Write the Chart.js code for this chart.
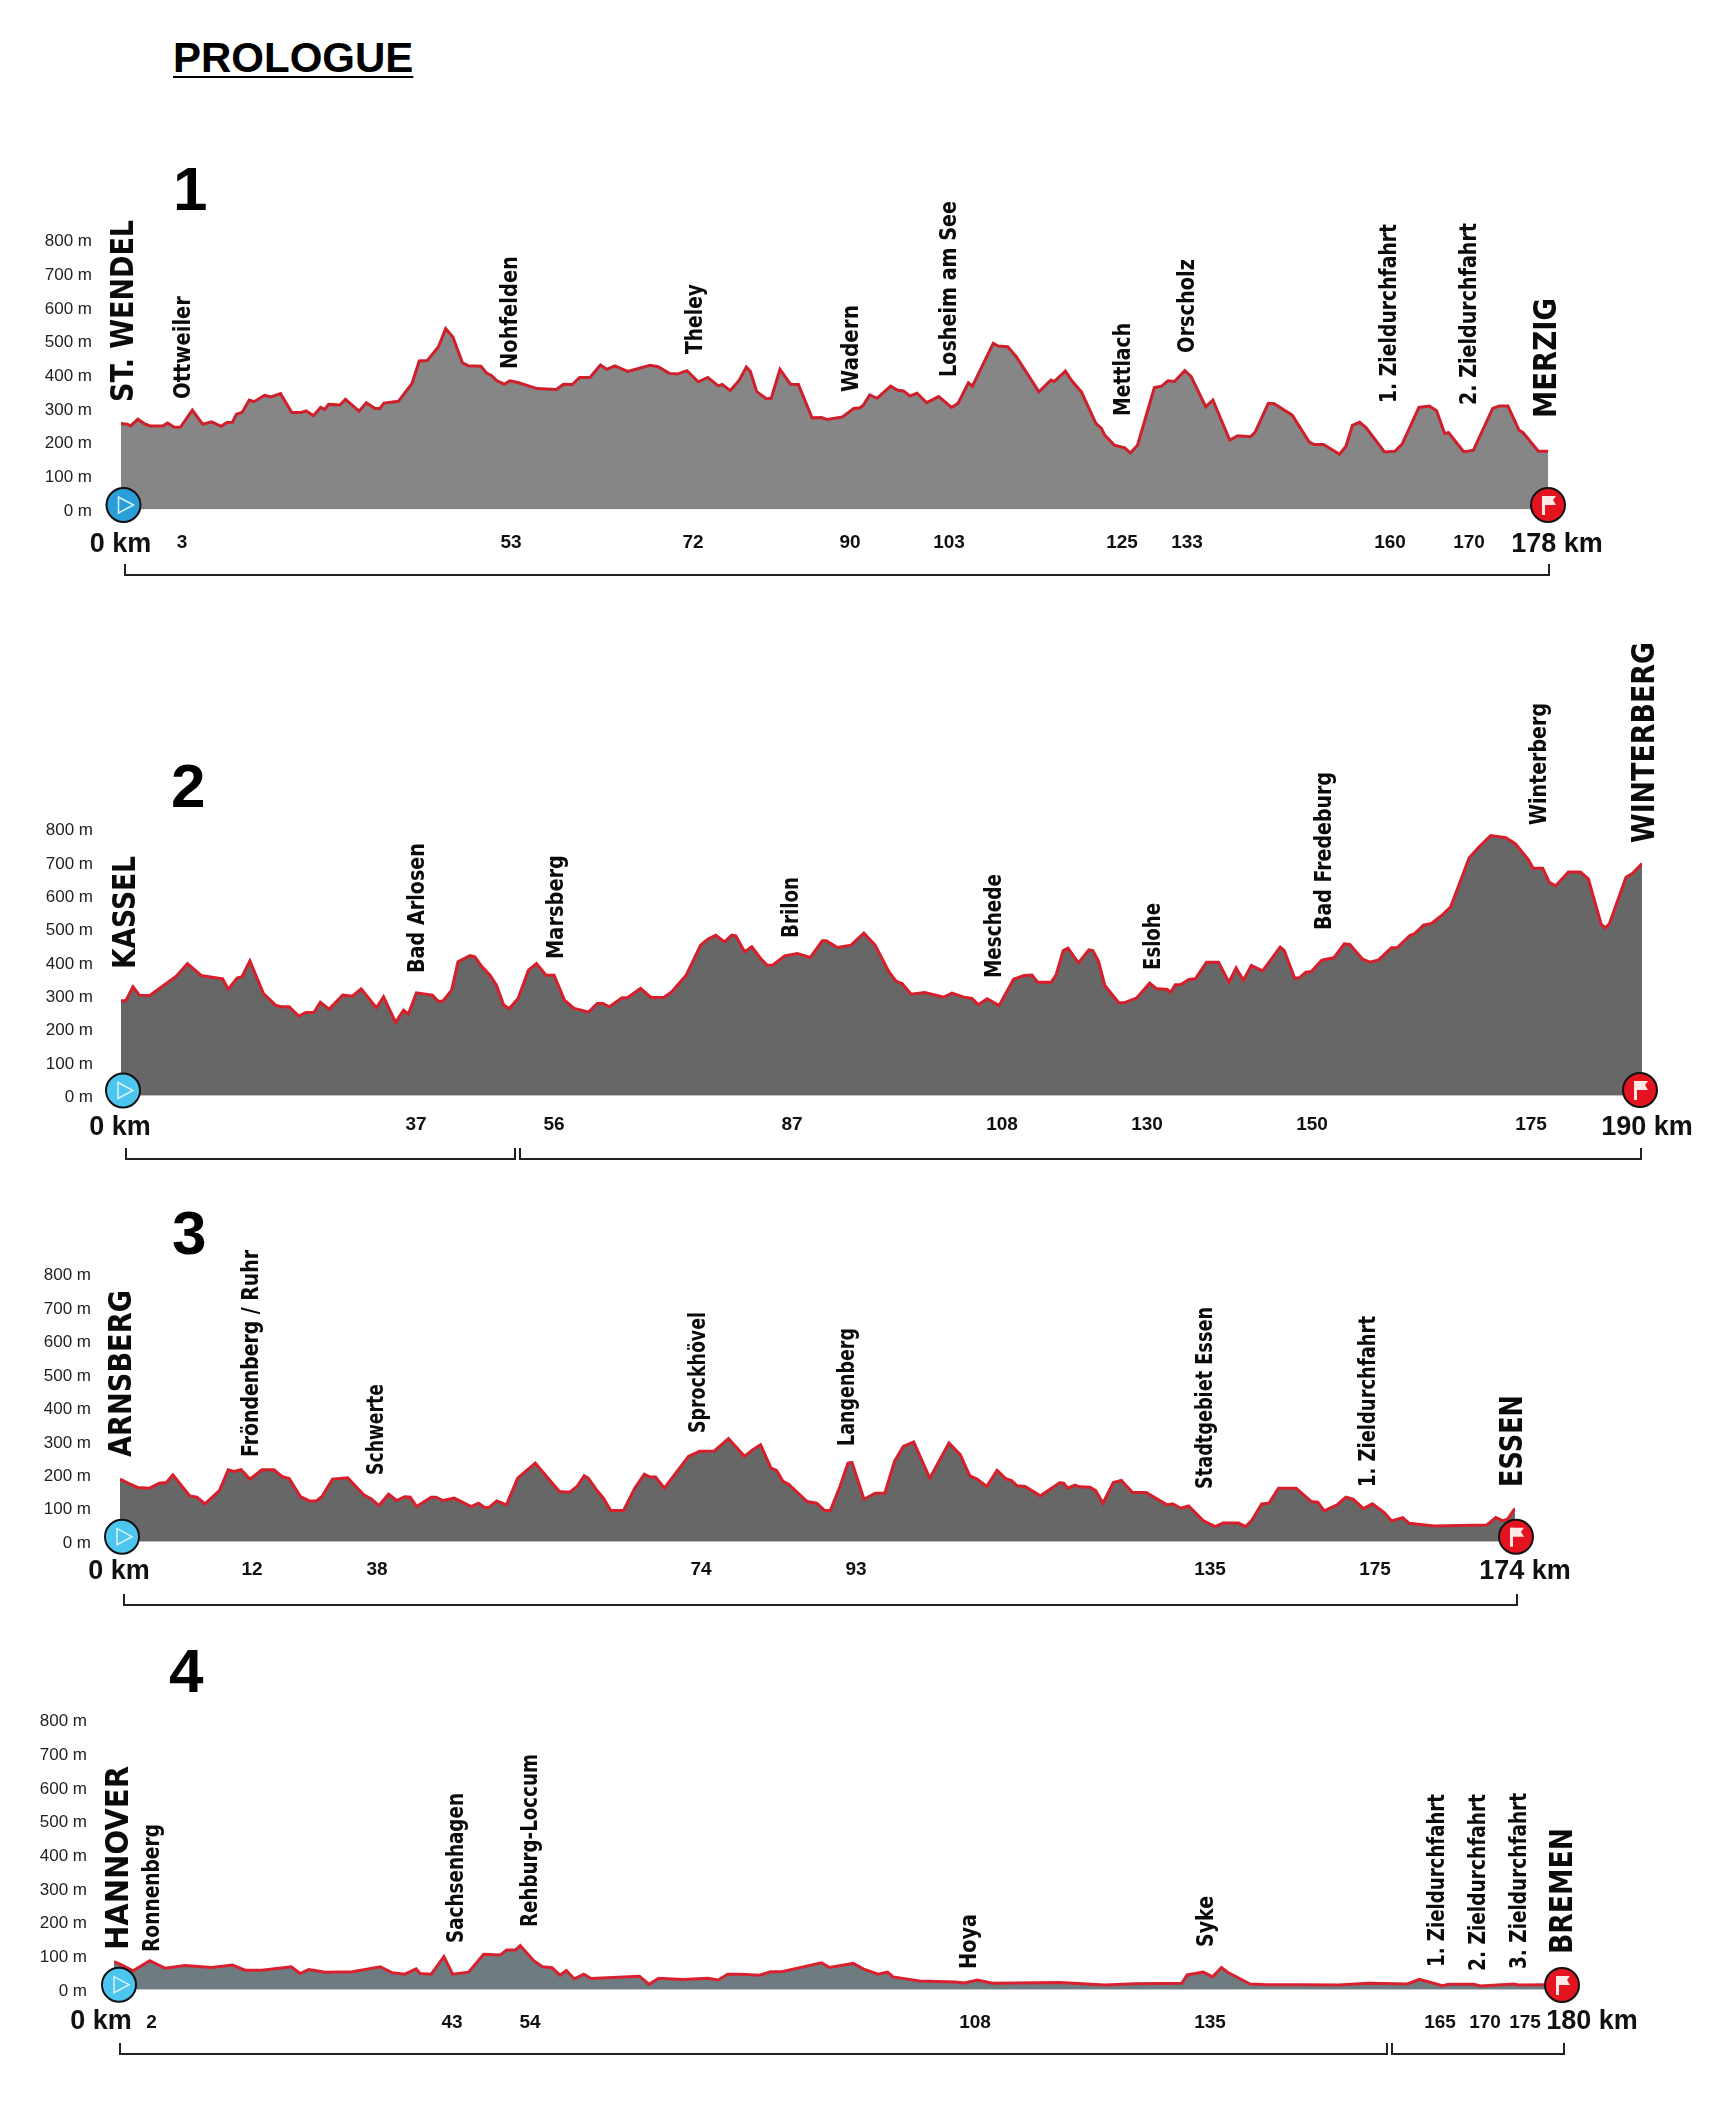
<!DOCTYPE html>
<html>
<head>
<meta charset="utf-8">
<title>Prologue and stages</title>
<script src="https://cdn.jsdelivr.net/npm/chart.js@4/dist/chart.umd.min.js"></script>
<style>
  html, body { margin: 0; background: #fff; }
  body { position: relative; width: 1728px; height: 2120px; overflow: hidden; }
  h1 { position: absolute; left: 173px; top: 34px; margin: 0; font: bold 42px "Liberation Sans", sans-serif; color: #000; text-decoration: underline; text-decoration-thickness: 2px; text-underline-offset: 4px; }
  canvas { position: absolute; left: 0; }
</style>
</head>
<body>
<h1>PROLOGUE</h1>
<canvas id="stage1" width="1728" height="500" style="top:100px"></canvas>
<canvas id="stage2" width="1728" height="590" style="top:600px"></canvas>
<canvas id="stage3" width="1728" height="430" style="top:1190px"></canvas>
<canvas id="stage4" width="1728" height="480" style="top:1630px"></canvas>
<script>
// profile values, km along the stage and metres
const stage1Km = [0,0.8,1.2,2.1,2.9,3.6,5.2,5.8,6.6,7.4,8.9,10.2,11.3,12.5,13.2,13.9,14.4,15.1,16,16.6,17.9,18.7,19.9,21.3,22.5,23.1,24,24.9,25.4,25.9,27.3,28,29.7,30.6,31.7,32.3,32.8,34.6,36.3,37.2,38.2,39.6,40.5,41.4,42.6,43.3,44.9,45.6,46.2,46.9,47.8,48.5,49.5,51.9,54.3,55.2,56.3,57.2,58.5,59.8,60.6,61.6,63.2,66,67,68.4,69.4,70.6,72,73.2,74.5,75,76,77.1,78,78.5,79.3,80.5,81.1,82.2,83.5,84.5,86.2,87.4,88.1,90,91.4,92.2,92.6,93.4,94.3,96,96.9,97.6,98.4,99.3,100.5,102,103.6,104.4,105.7,106.2,108.8,109.4,110.6,111.7,114.5,116,116.4,117.8,118.6,119.8,121.6,122.3,122.7,123.9,125.2,125.9,126.8,128.9,129.8,130.6,131.4,132.7,133.5,135.3,136.2,138.3,139.3,140.9,141.5,143.1,143.8,146.1,148.2,148.8,150,152,152.8,153.6,154.5,155.3,157.6,158.9,159.8,161.9,163.2,164.1,165.1,165.6,167.5,168.7,171.1,171.9,173,174.4,174.9,176.8,178];
const stage1Elev = [255,253,248,268,255,248,248,257,245,244,295,253,260,247,258,259,283,288,325,320,339,334,344,288,288,293,278,303,297,312,310,327,292,317,300,300,316,321,374,441,442,483,537,512,435,427,425,405,398,382,372,382,377,359,356,372,371,392,392,429,416,426,410,428,424,404,402,412,379,392,367,371,353,383,423,410,350,329,330,416,372,371,272,273,267,275,300,302,310,340,330,366,354,352,337,345,317,335,303,315,376,366,493,485,483,453,349,384,380,411,382,349,256,241,221,191,183,168,191,362,366,382,380,412,394,305,325,206,219,216,231,315,315,280,201,193,193,164,188,250,259,243,171,173,194,303,307,293,226,228,171,176,300,307,307,235,228,173,173];

const stage2Km = [0,0.6,1.5,2.3,3.6,6.9,8.3,10,12.7,13.4,14.5,15.1,16.1,17.8,19.3,20,21,22.2,23.1,24.1,24.9,26,27.7,28.9,30,31.9,32.8,34.3,35.3,35.9,36.9,38.9,39.6,40.2,41.3,42.1,43.6,44.2,45.1,46.1,46.9,47.8,48.5,49.6,50.9,51.9,53.1,54.1,55.4,56.6,57.5,58.4,59.5,60.2,61,62.6,63.3,64.9,66.2,67.8,68.8,70.6,72.4,73.3,74.3,75.4,76.3,76.8,77.9,78.8,79.9,80.7,81.4,82.9,84.5,86.1,87.6,88.1,89.5,91.2,92.8,94.2,95.9,96.8,97.6,98.7,100.4,102.8,103.8,105.3,106.3,107.1,108.2,109.7,111.5,112.8,113.8,114.5,116.2,116.8,117.7,118.3,119.6,120.9,121.4,122.1,122.9,124.6,125.3,126.9,128.5,129.3,130.7,131.1,131.7,132.4,133.4,134.2,135.6,137.1,138.4,139.3,140.2,141.2,142.6,144.8,145.3,146.6,147.2,148,148.7,150,151.5,152.8,153.5,155.1,156,157.1,158.7,159.4,161,161.6,162.7,163.7,165.1,166.1,168.4,169.6,171.1,173,174.2,175.8,176.4,177.6,178.4,179.2,180.8,182.3,183.3,184.9,185.4,185.9,188,188.8,190];
const stage2Elev = [285,285,327,302,301,359,397,361,351,320,353,357,405,307,272,267,267,239,250,250,281,260,302,299,321,264,297,220,257,245,309,302,284,284,317,402,421,417,387,362,332,272,262,292,377,397,362,362,287,262,257,251,277,277,267,294,295,322,295,295,312,362,452,470,482,462,482,480,432,447,412,392,392,420,427,415,465,465,445,452,488,452,373,344,336,305,310,296,308,296,292,273,291,271,350,361,362,341,341,362,436,443,399,438,436,404,331,280,279,294,338,322,319,310,333,334,349,351,401,401,341,384,347,391,375,446,436,353,354,371,373,407,414,456,454,410,401,408,444,444,481,487,512,517,544,567,714,746,781,775,756,709,683,683,641,630,672,672,651,515,504,515,656,667,697];

const stage3Km = [0,1,2.2,3.7,4.9,5.8,6.6,8.7,9.6,10.6,12.4,13.5,14.2,15.1,16.2,17.7,19.2,20.2,21.1,22.5,23.6,24.5,25.2,26.5,28.4,30.4,31.4,32.3,33.5,34.5,35.5,36.2,37,38.8,39.4,40.3,41.7,43.8,44.7,45.5,46,47,48.2,49.6,51.8,54.8,56.1,57,57.9,58.4,59.6,60.3,61.2,62.8,64.2,65.4,66.1,66.8,67.9,70.9,72.3,74.1,75.9,77.9,78.8,79.9,81.2,81.9,82.7,83.4,85.7,86.9,87.9,88.6,89.8,90.8,91.3,92.8,94.2,95.4,96.6,97.7,99,101,103.4,104.8,106,106.9,108.1,109.4,110.5,111.2,111.9,112.9,114.8,116.2,117.2,117.7,118.2,119.1,119.7,121,121.7,122.6,123.9,124.9,126.3,128,130.6,131.3,132.3,133.3,135.1,136.6,137.6,139.5,140.4,141.2,142.4,143.3,144.5,146.7,148.6,149.4,150.2,151.8,152.9,153.8,155.1,156.2,157.7,158.6,160,160.8,163.9,170.5,171.6,172.5,173.1,174];
const stage3Elev = [187,175,162,160,175,177,200,137,133,113,153,215,210,215,187,215,215,195,189,135,122,122,135,187,191,140,127,108,142,123,134,133,105,133,133,123,130,105,115,102,102,122,110,190,235,150,148,165,197,190,150,130,93,93,160,202,193,193,160,255,270,271,308,255,273,290,220,213,180,172,120,115,93,93,165,235,237,127,145,145,240,285,298,190,295,260,197,187,165,213,188,183,167,165,137,160,176,175,160,169,164,163,153,115,177,183,147,147,110,113,100,107,63,45,56,56,45,65,113,115,160,160,120,118,92,110,133,127,99,113,87,62,72,55,47,50,72,62,68,100];

const stage4Km = [0,1,2.4,4.5,6.4,8.9,12.3,14.9,16.5,18.6,22.3,23.4,24.5,26.6,30,33.5,35,36.6,38,38.5,39.9,41.5,42.6,44.6,46.5,48.6,49.4,50.5,51.1,52.8,53.9,55.1,56.1,56.9,57.9,59.1,60,66.1,67.3,68.5,71.6,74.7,76,77.2,78.9,81.2,82.6,84,89,90,93,94.4,96.1,97.3,98,101.3,105.8,107,108.6,110.5,119,124.6,128.4,134.3,135,137,138.2,139.3,140.2,142.9,145,149.9,154,157.8,162.7,164.2,167.1,167.9,171,171.9,176.1,176.6,180];
const stage4Elev = [83,73,56,86,64,72,66,73,58,58,68,48,60,52,53,68,50,46,62,48,46,98,46,52,105,103,118,118,131,86,68,65,43,57,32,46,33,40,16,34,30,34,29,46,46,43,53,53,80,66,78,60,46,52,38,26,23,20,29,19,21,14,18,19,44,52,38,66,50,17,15,15,14,19,17,31,12,16,16,11,17,14,15];

const elevationTicks = [0,100,200,300,400,500,600,700,800];

// place names and the km mark printed under each
const stage1Places = ['ST. WENDEL','Ottweiler','Nohfelden','Theley','Wadern','Losheim am See','Mettlach','Orscholz','1. Zieldurchfahrt','2. Zieldurchfahrt','MERZIG'];
const stage2Places = ['KASSEL','Bad Arlosen','Marsberg','Brilon','Meschede','Eslohe','Bad Fredeburg','Winterberg','WINTERBERG'];
const stage3Places = ['ARNSBERG','Fröndenberg / Ruhr','Schwerte','Sprockhövel','Langenberg','Stadtgebiet Essen','1. Zieldurchfahrt','ESSEN'];
const stage4Places = ['HANNOVER','Ronnenberg','Sachsenhagen','Rehburg-Loccum','Hoya','Syke','1. Zieldurchfahrt','2. Zieldurchfahrt','3. Zieldurchfahrt','BREMEN'];

const stage1Marks = ['0 km','3','53','72','90','103','125','133','160','170','178 km'];
const stage2Marks = ['0 km','37','56','87','108','130','150','175','190 km'];
const stage3Marks = ['0 km','12','38','74','93','135','175','174 km'];
const stage4Marks = ['0 km','2','43','54','108','135','165','170','175','180 km'];

// text placement on the page: x, bottom, length
const stage1PlaceBox = [[122.5,402,182],[182.5,399,103],[509,369,113],[694,354,70],[850,392,87],[948,377,176],[1122,416,93],[1186,353,94],[1388,403,179],[1468,405,182],[1545,418,120]];
const stage2PlaceBox = [[124.5,969,113],[416,973,130],[555.5,959,104],[790,938,61],[993,978,104],[1152,970,67],[1323,930,158],[1538,825,122],[1643,843,201]];
const stage3PlaceBox = [[120,1457,167],[250,1457,207],[375,1475,91],[697,1433,121],[846,1446,118],[1204,1489,182],[1367,1487,171],[1511,1487,92]];
const stage4PlaceBox = [[117,1950,184],[151.5,1952,128],[455,1943,150],[529,1927,173],[968,1969,55],[1205,1947,51],[1436,1967,173],[1477,1971,177],[1518,1969,176],[1561,1954,126]];

const stage1MarkX = [120.5,182,511,693,850,949,1122,1187,1390,1469,1557];
const stage2MarkX = [120,416,554,792,1002,1147,1312,1531,1647];
const stage3MarkX = [119,252,377,701,856,1210,1375,1525];
const stage4MarkX = [101,151.5,452,530,975,1210,1440,1485,1525,1592];

const stages = [
  { id: 'stage1', top: 100, height: 500, left: 121, right: 1548, y800: 240, y0: 509.5, tickRight: 92, line: '#cf1f2b', fill: '#868686', km: stage1Km, elev: stage1Elev,
    places: stage1Places, box: stage1PlaceBox, marks: stage1Marks, markX: stage1MarkX, markY: 542.7, bigDy: 2, number: '1', numX: 173, numBase: 210,
    start: [123.5, 505], startColor: '#2a9ed8', finish: [1548, 505],
    brackets: [[125, 1549]], bracketY: 575 },
  { id: 'stage2', top: 600, height: 590, left: 121, right: 1642, y800: 829.3, y0: 1095.7, tickRight: 93, line: '#d71f2b', fill: '#676767', km: stage2Km, elev: stage2Elev,
    places: stage2Places, box: stage2PlaceBox, marks: stage2Marks, markX: stage2MarkX, markY: 1124.5, bigDy: 3, number: '2', numX: 171, numBase: 807,
    start: [123, 1090.5], startColor: '#4cc6ee', finish: [1640, 1090],
    brackets: [[126, 515], [520, 1641]], bracketY: 1159 },
  { id: 'stage3', top: 1190, height: 430, left: 120, right: 1515, y800: 1274, y0: 1541.7, tickRight: 91, line: '#d71f2b', fill: '#676767', km: stage3Km, elev: stage3Elev,
    places: stage3Places, box: stage3PlaceBox, marks: stage3Marks, markX: stage3MarkX, markY: 1569.5, bigDy: 2, number: '3', numX: 172, numBase: 1254,
    start: [122, 1536.7], startColor: '#4cc6ee', finish: [1516, 1536.7],
    brackets: [[124, 1517]], bracketY: 1605 },
  { id: 'stage4', top: 1630, height: 480, left: 114, right: 1545, y800: 1720, y0: 1989.7, tickRight: 87, line: '#d9202f', fill: '#6e7c81', km: stage4Km, elev: stage4Elev,
    places: stage4Places, box: stage4PlaceBox, marks: stage4Marks, markX: stage4MarkX, markY: 2023, bigDy: -1, number: '4', numX: 169, numBase: 1692,
    start: [119, 1984.7], startColor: '#4cc6ee', finish: [1562, 1985],
    brackets: [[120, 1387], [1392, 1564]], bracketY: 2054 }
];

function isCity(name) {
  return name === name.toUpperCase();
}

function drawPlace(ctx, name, x, bottom, len) {
  const city = isCity(name);
  ctx.save();
  ctx.translate(x, bottom);
  ctx.rotate(-Math.PI / 2);
  ctx.font = 'bold ' + (city ? 32 : 23) + 'px "DejaVu Sans", sans-serif';
  ctx.textAlign = 'left';
  ctx.textBaseline = 'alphabetic';
  ctx.fillStyle = '#0b0b0b';
  const natural = ctx.measureText(name).width;
  ctx.scale(len / natural, 1);
  // baseline sits below the x position, so the glyphs stay centred on it
  ctx.fillText(name, 0, city ? 10.5 : 7.5);
  ctx.restore();
}

function drawStart(ctx, x, y, color) {
  ctx.beginPath();
  ctx.arc(x, y, 17, 0, Math.PI * 2);
  ctx.fillStyle = color;
  ctx.fill();
  ctx.lineWidth = 2;
  ctx.strokeStyle = '#111';
  ctx.stroke();
  ctx.beginPath();
  ctx.moveTo(x - 5, y - 8);
  ctx.lineTo(x + 10, y);
  ctx.lineTo(x - 5, y + 8);
  ctx.closePath();
  ctx.lineWidth = 1.5;
  ctx.strokeStyle = '#d8f2fb';
  ctx.stroke();
}

function drawFinish(ctx, x, y) {
  ctx.beginPath();
  ctx.arc(x, y, 17, 0, Math.PI * 2);
  ctx.fillStyle = '#e3141f';
  ctx.fill();
  ctx.lineWidth = 2;
  ctx.strokeStyle = '#111';
  ctx.stroke();
  // pole and notched flag
  ctx.fillStyle = '#ffe9e6';
  ctx.fillRect(x - 6, y - 9, 3, 19);
  ctx.beginPath();
  ctx.moveTo(x - 5, y - 9);
  ctx.lineTo(x + 8, y - 9);
  ctx.lineTo(x + 5, y - 5);
  ctx.lineTo(x + 8, y);
  ctx.lineTo(x - 5, y);
  ctx.closePath();
  ctx.fill();
}

function stageOverlay(s) {
  return {
    id: 'overlay' + s.id,
    afterDraw(chart) {
      const ctx = chart.ctx;
      ctx.save();
      ctx.translate(0, -s.top);

      ctx.font = 'bold 62px "Liberation Sans", sans-serif';
      ctx.fillStyle = '#000';
      ctx.textAlign = 'left';
      ctx.textBaseline = 'alphabetic';
      ctx.fillText(s.number, s.numX, s.numBase);

      s.places.forEach((name, i) => {
        drawPlace(ctx, name, s.box[i][0], s.box[i][1], s.box[i][2]);
      });

      ctx.textBaseline = 'middle';
      ctx.textAlign = 'center';
      ctx.fillStyle = '#111';
      s.marks.forEach((m, i) => {
        const big = m.indexOf('km') >= 0;
        ctx.font = 'bold ' + (big ? 27 : 19) + 'px "Liberation Sans", sans-serif';
        ctx.fillText(m, s.markX[i], s.markY + (big ? s.bigDy : 0));
      });

      ctx.strokeStyle = '#222';
      ctx.lineWidth = 2;
      s.brackets.forEach(b => {
        ctx.beginPath();
        ctx.moveTo(b[0], s.bracketY - 11);
        ctx.lineTo(b[0], s.bracketY);
        ctx.lineTo(b[1], s.bracketY);
        ctx.lineTo(b[1], s.bracketY - 11);
        ctx.stroke();
      });

      drawStart(ctx, s.start[0], s.start[1], s.startColor);
      drawFinish(ctx, s.finish[0], s.finish[1]);
      ctx.restore();
    }
  };
}

stages.forEach(s => {
  const ctx = document.getElementById(s.id).getContext('2d');
  new Chart(ctx, {
    type: 'line',
    data: {
      datasets: [{
        label: s.id,
        data: s.km.map((k, i) => ({ x: k, y: s.elev[i] })),
        borderColor: s.line,
        backgroundColor: s.fill,
        borderWidth: 3,
        pointRadius: 0,
        tension: 0,
        fill: 'origin'
      }]
    },
    options: {
      responsive: false,
      animation: false,
      layout: {
        autoPadding: false,
        padding: { left: 0, right: 1728 - s.right, top: s.y800 - s.top, bottom: s.top + s.height - s.y0 }
      },
      plugins: { legend: { display: false }, tooltip: { enabled: false } },
      scales: {
        x: { type: 'linear', display: false, min: 0, max: s.km[s.km.length - 1] },
        y: {
          min: 0,
          max: 800,
          afterFit(scale) { scale.width = s.left; },
          afterBuildTicks(scale) { scale.ticks = elevationTicks.map(v => ({ value: v })); },
          border: { display: false },
          grid: { display: false, drawTicks: false },
          ticks: {
            padding: s.left - s.tickRight,
            labelOffset: 1.5,
            color: '#222',
            font: { family: '"Liberation Sans", sans-serif', size: 17 },
            callback: v => v + ' m'
          }
        }
      }
    },
    plugins: [stageOverlay(s)]
  });
});
</script>
</body>
</html>
